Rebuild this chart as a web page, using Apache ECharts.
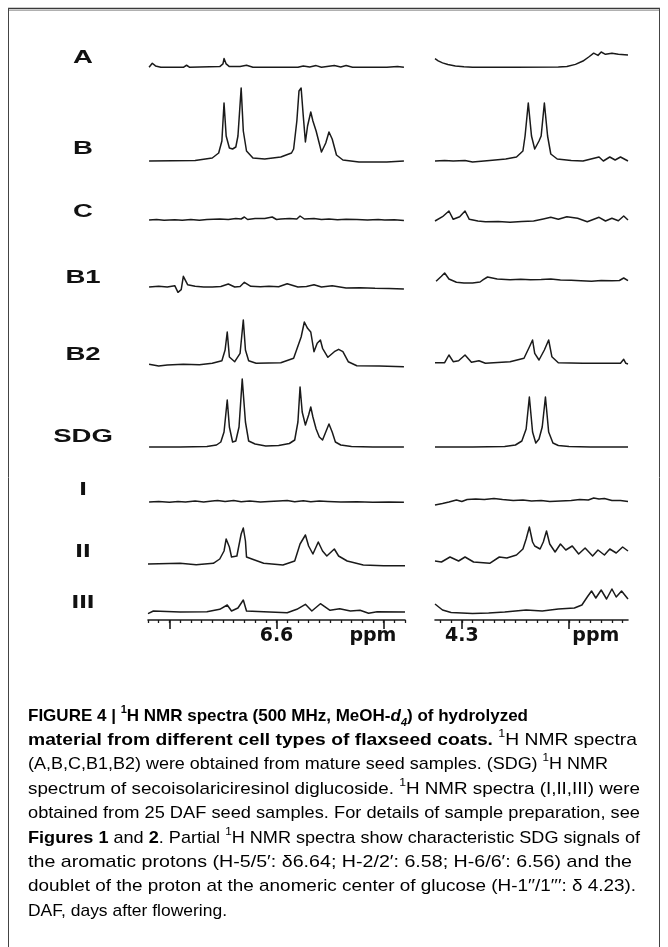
<!DOCTYPE html>
<html><head><meta charset="utf-8">
<script src="https://cdn.jsdelivr.net/npm/echarts@6/dist/echarts.min.js"></script>
<style>html,body{margin:0;padding:0;background:#fff}#c{width:668px;height:947px}</style>
</head><body><div id="c"></div>
<script>
// ---------- data (ppm, relative intensity) ----------
const rowNames = ['A','B','C','B1','B2','SDG','I','II','III'];

const A_aro = [[6.719,0],[6.716,6],[6.713,2],[6.708,0],[6.687,0],[6.684,3],[6.681,0],[6.653,1],[6.650,5],[6.649,13],[6.647,5],[6.644,1],[6.634,1],[6.628,3],[6.622,0],[6.580,0],[6.575,2],[6.569,0.5],[6.563,2.5],[6.558,0],[6.546,2.5],[6.540,0.5],[6.535,2.5],[6.529,0],[6.497,0],[6.487,1],[6.481,0]];
const A_ano = [[4.325,12.7],[4.322,9.5],[4.318,6.5],[4.313,4],[4.306,2],[4.298,0.7],[4.290,0],[4.250,0],[4.210,0.3],[4.202,1],[4.194,4.3],[4.187,9.3],[4.181,16],[4.177,21],[4.173,17.7],[4.170,22.7],[4.166,19.3],[4.160,21],[4.154,19.3],[4.145,18.3]];

const B_aro = [[6.719,0],[6.676,0.5],[6.660,3],[6.654,8],[6.651,20],[6.649,58],[6.647,25],[6.644,13],[6.641,12],[6.638,14],[6.636,25],[6.633,73],[6.631,30],[6.628,10],[6.622,3],[6.611,2],[6.596,4],[6.586,8],[6.584,12],[6.581,40],[6.579,70],[6.577,73],[6.575,45],[6.573,19],[6.571,35],[6.568,49],[6.566,40],[6.563,30],[6.558,9],[6.554,18],[6.551,29],[6.548,22],[6.544,6],[6.538,1],[6.523,-1],[6.497,-1],[6.481,0]];
const B_ano = [[4.325,0],[4.316,0.5],[4.308,0],[4.297,0.5],[4.290,-1],[4.274,0.5],[4.259,2],[4.249,4],[4.243,10],[4.241,25],[4.238,58],[4.235,25],[4.232,12],[4.228,20],[4.226,25],[4.223,58],[4.220,25],[4.217,7],[4.211,2],[4.198,0.5],[4.187,0],[4.172,4],[4.168,0],[4.162,4],[4.157,1],[4.152,4],[4.145,0]];

const C_aro = [[6.719,0],[6.712,0.5],[6.705,-0.3],[6.695,0.3],[6.688,-0.3],[6.680,0.5],[6.672,-0.3],[6.665,0.5],[6.653,1],[6.645,0.5],[6.638,1.5],[6.633,1],[6.630,3],[6.627,0.5],[6.620,1.5],[6.611,1.5],[6.604,3],[6.600,0.5],[6.596,1],[6.588,1.5],[6.581,1],[6.578,4],[6.574,1],[6.565,1.5],[6.558,0.5],[6.551,1],[6.543,0.3],[6.535,0.8],[6.525,0.5],[6.515,0],[6.505,0.4],[6.499,0],[6.490,0.3],[6.481,-0.5]];
const C_ano = [[4.325,-1],[4.318,3.3],[4.312,9],[4.308,0.7],[4.302,3.3],[4.297,9],[4.293,0.7],[4.285,-1],[4.278,-1.7],[4.266,-1.5],[4.255,-2.3],[4.244,-1.5],[4.233,-1],[4.224,1],[4.217,2.7],[4.210,0.7],[4.202,3.3],[4.192,1.7],[4.183,-1.7],[4.172,2.7],[4.166,-1],[4.160,1.7],[4.154,-0.7],[4.149,4],[4.145,0]];

const B1_aro = [[6.719,1],[6.710,1.7],[6.702,1],[6.695,2.3],[6.692,-4.3],[6.689,-1.7],[6.687,11.7],[6.686,12.7],[6.683,3.3],[6.676,1.7],[6.668,1],[6.660,1],[6.652,1.5],[6.645,4],[6.639,1],[6.634,1.5],[6.630,5.7],[6.624,1.7],[6.615,1.2],[6.607,1.7],[6.598,1.2],[6.590,4.3],[6.580,1],[6.572,1.5],[6.565,3.3],[6.558,1],[6.548,2.3],[6.535,0],[6.522,0.3],[6.508,-0.3],[6.495,-0.5],[6.481,-1]];
const B1_ano = [[4.324,6.7],[4.319,11.7],[4.316,15],[4.312,9],[4.305,5.7],[4.298,5],[4.290,5],[4.283,6],[4.280,8.3],[4.276,11],[4.267,9],[4.255,8.3],[4.245,8.8],[4.236,8.3],[4.226,8.5],[4.217,9],[4.208,8],[4.198,7.7],[4.189,7.2],[4.179,6.7],[4.170,7.5],[4.160,7.3],[4.153,7.5],[4.149,10],[4.145,7.3]];

const B2_aro = [[6.719,0.7],[6.710,-1],[6.702,0],[6.687,0.7],[6.672,0.3],[6.660,1.7],[6.651,4.3],[6.648,15],[6.646,33],[6.644,8],[6.639,3.3],[6.634,11.7],[6.631,45],[6.629,15],[6.626,4.3],[6.619,1.7],[6.596,2.3],[6.584,6.7],[6.577,28],[6.574,43],[6.571,36.7],[6.568,33],[6.565,13.3],[6.562,21.7],[6.559,25],[6.557,16.7],[6.552,7.7],[6.546,13.3],[6.542,15.7],[6.538,13.3],[6.533,3.3],[6.525,-0.7],[6.504,-1],[6.481,-1.7]];
const B2_ano = [[4.325,2.3],[4.316,2.3],[4.312,10],[4.308,3.3],[4.303,4.3],[4.297,10],[4.291,2.7],[4.284,4.3],[4.278,1.7],[4.255,3.3],[4.242,6.7],[4.237,18],[4.234,25],[4.232,11.7],[4.228,5],[4.223,15],[4.219,25],[4.216,8.3],[4.210,2.3],[4.187,1.7],[4.164,1.7],[4.152,1.7],[4.149,5.7],[4.147,1.7],[4.145,1]];

const SDG_aro = [[6.719,0],[6.690,0],[6.665,0.5],[6.656,2],[6.652,5],[6.649,15],[6.646,47],[6.644,20],[6.641,5],[6.638,6],[6.635,20],[6.632,68],[6.629,25],[6.626,6],[6.620,3],[6.610,1],[6.598,1.5],[6.588,3.5],[6.583,7],[6.580,25],[6.578,60],[6.576,35],[6.573,22],[6.570,32],[6.568,40],[6.566,30],[6.563,18],[6.560,10],[6.557,7],[6.554,15],[6.551,23],[6.548,15],[6.545,5],[6.540,2],[6.530,0.5],[6.510,0],[6.481,0]];
const SDG_ano = [[4.325,0],[4.290,0],[4.260,0.5],[4.250,2],[4.244,6],[4.240,18],[4.237,50],[4.234,15],[4.231,4],[4.228,8],[4.225,20],[4.222,50],[4.219,15],[4.215,4],[4.210,1.5],[4.200,0.5],[4.180,0],[4.145,0]];

const I_aro = [[6.719,0],[6.710,0.5],[6.700,-0.3],[6.692,0.5],[6.685,0],[6.676,1],[6.668,0],[6.660,1],[6.655,1.5],[6.648,0.5],[6.640,1.5],[6.633,0.3],[6.625,1],[6.615,0],[6.607,0.5],[6.598,1],[6.590,1.5],[6.583,0.3],[6.575,1.3],[6.568,0.3],[6.560,1],[6.552,0.5],[6.540,0],[6.525,0.2],[6.510,-0.2],[6.495,0],[6.481,-0.3]];
const I_ano = [[4.325,-3],[4.318,-1.5],[4.312,0],[4.305,2],[4.300,0.5],[4.295,2.5],[4.287,3],[4.279,2.5],[4.270,3.5],[4.262,2.5],[4.252,1.5],[4.243,2],[4.235,1],[4.226,1.5],[4.218,0.5],[4.208,1],[4.198,1.5],[4.190,2.5],[4.182,2],[4.177,4],[4.172,3],[4.167,3.5],[4.160,1.5],[4.152,1.5],[4.145,0.5]];

const II_aro = [[6.720,0],[6.690,0.7],[6.675,-0.7],[6.659,0.7],[6.653,5],[6.649,13],[6.647,25],[6.644,17],[6.642,7],[6.637,8],[6.633,30],[6.631,36],[6.629,23],[6.628,7],[6.623,5],[6.612,0.7],[6.594,-1],[6.583,3],[6.578,20],[6.573,29],[6.570,18],[6.566,10],[6.561,22],[6.557,13],[6.553,8],[6.546,15],[6.542,8],[6.534,3],[6.519,-1],[6.500,-1.7],[6.480,-1.7]];
const II_ano = [[4.325,3],[4.319,2],[4.311,7],[4.303,3],[4.297,7],[4.289,2],[4.274,0.7],[4.265,7],[4.258,6],[4.249,9],[4.243,15],[4.240,25],[4.237,37],[4.234,22],[4.232,18],[4.227,15],[4.224,22],[4.221,33],[4.218,20],[4.213,12],[4.208,20],[4.203,14],[4.197,18],[4.191,10],[4.185,16],[4.178,8],[4.173,14],[4.167,9],[4.162,15],[4.156,11],[4.150,17],[4.145,13]];

const III_aro = [[6.720,-2.7],[6.715,0],[6.690,-1],[6.665,-0.7],[6.653,1.7],[6.646,6],[6.642,0],[6.636,3],[6.631,11],[6.628,0],[6.612,-0.7],[6.590,-1.7],[6.581,1.7],[6.573,6.7],[6.567,0],[6.559,7.3],[6.550,0.7],[6.541,2.3],[6.531,0],[6.522,0.7],[6.514,-2.3],[6.506,-0.7],[6.480,-1]];
const III_ano = [[4.325,7],[4.318,1],[4.310,-1.5],[4.290,-2.5],[4.275,-2],[4.260,-1],[4.240,1],[4.225,0],[4.210,2],[4.195,3],[4.188,6],[4.183,14],[4.179,20],[4.175,13],[4.170,21],[4.165,12],[4.160,22],[4.156,14],[4.151,20],[4.145,12]];

// axis ticks & labels
const aroMinorTicks = [6.48,6.49,6.50,6.51,6.52,6.53,6.54,6.55,6.56,6.57,6.58,6.59,6.60,6.61,6.62,6.63,6.64,6.65,6.66,6.67,6.68,6.69,6.70,6.71,6.72];
const anoMinorTicks = [4.15,4.16,4.17,4.18,4.19,4.20,4.21,4.22,4.23,4.24,4.25,4.26,4.27,4.28,4.29,4.30,4.31,4.32];
const aroMajorTicks = [6.5,6.6,6.7];
const anoMajorTicks = [4.2,4.3];
const aroTickLabels = [[6.6,'6.6'],[6.51,'ppm']];
const anoTickLabels = [[4.3,'4.3'],[4.175,'ppm']];

const aroSeries = [A_aro,B_aro,C_aro,B1_aro,B2_aro,SDG_aro,I_aro,II_aro,III_aro];
const anoSeries = [A_ano,B_ano,C_ano,B1_ano,B2_ano,SDG_ano,I_ano,II_ano,III_ano];

// ---------- layout ----------
const baseY  = [64,161,220,288,365,447,502,564,611];
const labelY = [58,149,212,278,355,437,490,552,603];
const axisY = 620;
const UP = 100;
const panels = [
  {left:148, width:257, min:6.48, max:6.72, minor:aroMinorTicks, major:aroMajorTicks, labels:aroTickLabels},
  {left:435, width:193, min:4.145, max:4.325, minor:anoMinorTicks, major:anoMajorTicks, labels:anoTickLabels}
];
const INK = '#1a1a1a';

const grids = [], xAxes = [], yAxes = [], series = [];
const last = rowNames.length - 1;
rowNames.forEach((name, r) => {
  const down = r === last ? axisY - baseY[r] : 10;
  panels.forEach((p, pi) => {
    const idx = grids.length;
    grids.push({left:p.left, width:p.width, top:baseY[r]-UP, height:UP+down});
    xAxes.push({
      gridIndex: idx, type:'value', min:p.min, max:p.max, inverse:true, show: r === last,
      axisLine:{show:true, onZero:false, lineStyle:{color:INK, width:1.6}},
      axisTick:{show:true, customValues:p.minor, length:3, lineStyle:{color:INK, width:1.3}},
      axisLabel:{show:false}, splitLine:{show:false}
    });
    yAxes.push({gridIndex: idx, type:'value', min:-down, max:UP, show:false, splitLine:{show:false}});
    series.push({
      type:'line', xAxisIndex:idx, yAxisIndex:idx,
      data: (pi === 0 ? aroSeries : anoSeries)[r],
      showSymbol:false, symbol:'none', clip:false, silent:true, animation:false,
      lineStyle:{color:INK, width:1.5, join:'round'}
    });
  });
});
// overlay axes with major ticks and labels for the bottom row
panels.forEach((p) => {
  const idx = grids.length;
  const down = axisY - baseY[last];
  grids.push({left:p.left, width:p.width, top:baseY[last]-UP, height:UP+down});
  xAxes.push({
    gridIndex: idx, type:'value', min:p.min, max:p.max, inverse:true,
    axisLine:{show:false, onZero:false},
    axisTick:{show:true, customValues:p.major, length:9, lineStyle:{color:INK, width:1.6}},
    axisLabel:{
      show:true, customValues:p.labels.map(d => d[0]), margin:7,
      color:'#111', fontFamily:'DejaVu Sans', fontWeight:'bold', fontSize:19,
      formatter: v => { const f = p.labels.find(d => Math.abs(d[0]-v) < 1e-6); return f ? f[1] : ''; }
    },
    splitLine:{show:false}
  });
  yAxes.push({gridIndex: idx, type:'value', min:-down, max:UP, show:false, splitLine:{show:false}});
});

// ---------- texts ----------
const graphics = [];
graphics.push({type:'line', shape:{x1:8, y1:8.5, x2:660, y2:8.5}, style:{stroke:'#3a3a3a', lineWidth:1.6}});
graphics.push({type:'line', shape:{x1:8, y1:10.5, x2:660, y2:10.5}, style:{stroke:'#b0b0b0', lineWidth:1}});
graphics.push({type:'line', shape:{x1:8.5, y1:8, x2:8.5, y2:947}, style:{stroke:'#444', lineWidth:1}});
graphics.push({type:'line', shape:{x1:659.5, y1:8, x2:659.5, y2:947}, style:{stroke:'#444', lineWidth:1}});
rowNames.forEach((name, r) => {
  graphics.push({type:'text', x:83, y:labelY[r], scaleX:1.45,
    style:{text:name, fill:'#111', font:'bold 19px "Liberation Sans", Arial, sans-serif', textAlign:'center', textVerticalAlign:'middle'}});
});

// caption (segments: style, text)
const captionLines = [
  [['b','FIGURE 4 | '],['bs','1'],['b','H NMR spectra (500 MHz, MeOH-'],['bi','d'],['bsub','4'],['b',') of hydrolyzed']],
  [['b','material from different cell types of flaxseed coats. '],['rs','1'],['r','H NMR spectra']],
  [['r','(A,B,C,B1,B2) were obtained from mature seed samples. (SDG) '],['rs','1'],['r','H NMR']],
  [['r','spectrum of secoisolariciresinol diglucoside. '],['rs','1'],['r','H NMR spectra (I,II,III) were']],
  [['r','obtained from 25 DAF seed samples. For details of sample preparation, see']],
  [['b','Figures 1'],['r',' and '],['b','2'],['r','. Partial '],['rs','1'],['r','H NMR spectra show characteristic SDG signals of']],
  [['r','the aromatic protons (H-5/5\u2032: \u03b46.64; H-2/2\u2032: 6.58; H-6/6\u2032: 6.56) and the']],
  [['r','doublet of the proton at the anomeric center of glucose (H-1\u2032\u2032/1\u2032\u2032\u2032: \u03b4 4.23).']],
  [['r','DAF, days after flowering.']]
];
const captionRight = [528,637,608,640,640,640,632,636,227];
const capX = 28, capY0 = 716, capLH = 24.4;
const FF = '"Liberation Sans", Arial, sans-serif';
const rich = {
  r:{fontFamily:FF, fontSize:17, color:'#3a3a3a', lineHeight:24},
  b:{fontFamily:FF, fontSize:17, fontWeight:'bold', color:'#1a1a1a', lineHeight:24},
  bi:{fontFamily:FF, fontSize:17, fontWeight:'bold', fontStyle:'italic', color:'#1a1a1a', lineHeight:24},
  rs:{fontFamily:FF, fontSize:11, color:'#3a3a3a', lineHeight:14, verticalAlign:'top'},
  bs:{fontFamily:FF, fontSize:11, fontWeight:'bold', color:'#1a1a1a', lineHeight:14, verticalAlign:'top'},
  bsub:{fontFamily:FF, fontSize:11, fontWeight:'bold', fontStyle:'italic', color:'#1a1a1a', lineHeight:16, verticalAlign:'bottom'}
};
const mctx = document.createElement('canvas').getContext('2d');
function segWidth(s, t) {
  const st = rich[s];
  mctx.font = (st.fontStyle || 'normal') + ' ' + (st.fontWeight || 'normal') + ' ' + st.fontSize + 'px ' + st.fontFamily;
  return mctx.measureText(t).width;
}
captionLines.forEach((segs, i) => {
  const w = segs.reduce((a, s) => a + segWidth(s[0], s[1]), 0);
  const sx = (captionRight[i] - capX) / w;
  graphics.push({type:'text', x:capX, y:capY0 + i*capLH, scaleX:sx,
    style:{text: segs.map(s => '{' + s[0] + '|' + s[1] + '}').join(''), rich:rich, textAlign:'left', textVerticalAlign:'middle'}});
});

const chart = echarts.init(document.getElementById('c'), null, {renderer:'canvas'});
chart.setOption({
  animation:false, backgroundColor:'#fff',
  grid:grids, xAxis:xAxes, yAxis:yAxes, series:series, graphic:graphics
});
</script></body></html>
